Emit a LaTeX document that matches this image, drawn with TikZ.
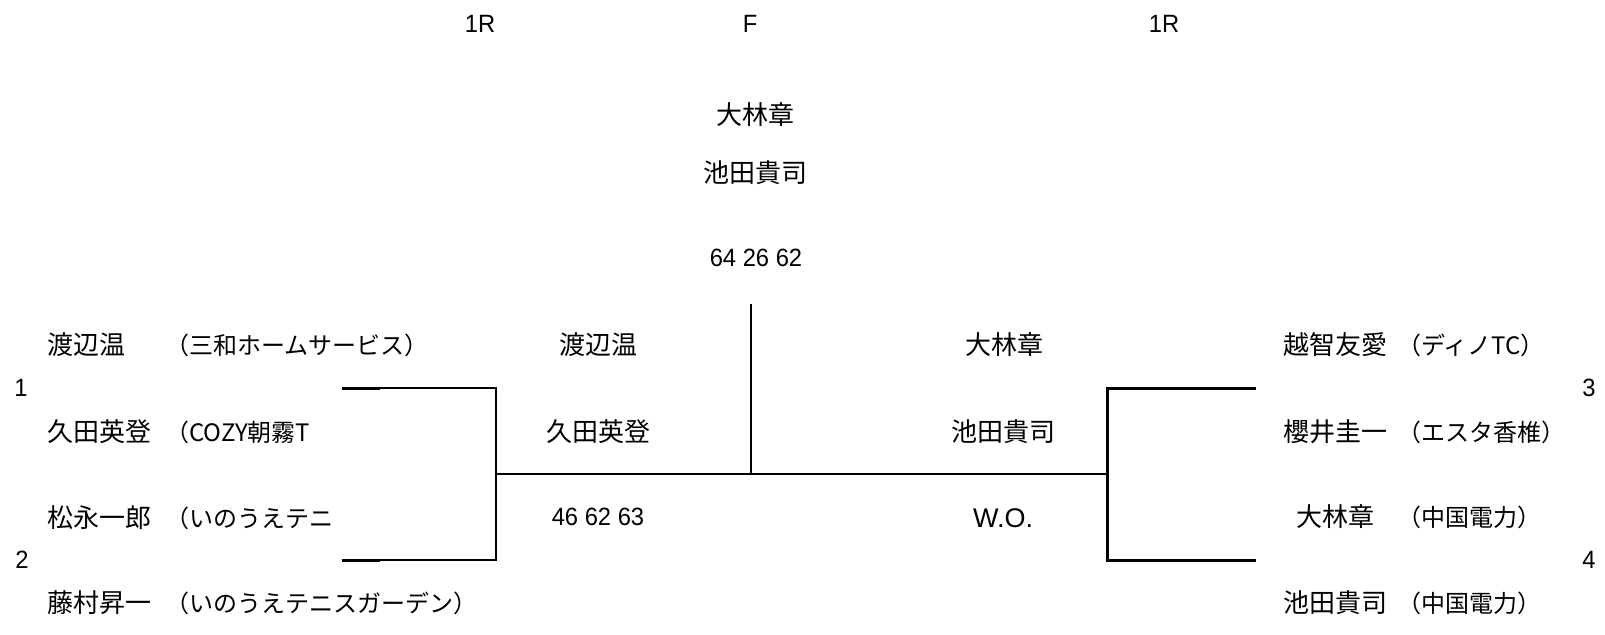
\documentclass[tikz,border=0pt]{standalone}
\usepackage{fontspec}
\setmainfont{Noto Sans CJK JP}
\newfontfamily\jpfont{Noto Sans CJK JP}
\newfontfamily\narrowfont[FakeStretch=0.95]{Liberation Sans}
\newfontfamily\wofont{Liberation Sans}
\begin{document}
\begin{tikzpicture}[x=1pt,y=-1pt,
  pname/.style={font=\jpfont\fontsize{26}{26}\selectfont, inner sep=0pt},
  team/.style={font=\jpfont\fontsize{24}{24}\selectfont, inner sep=0pt, anchor=west},
  lbl/.style={font=\narrowfont\fontsize{25}{25}\selectfont, inner sep=0pt},
  wo/.style={font=\wofont\fontsize{27}{27}\selectfont, inner sep=0pt},
  bk/.style={line width=2pt},
  bkt/.style={line width=3pt},
  bkr/.style={line width=3pt},
  bkc/.style={line width=1.5pt}]
\useasboundingbox (0,0) rectangle (1605,634);
% round headers
\node[lbl] (h1) at (480,24) {1R};
\node[lbl] (hf) at (750,24) {F};
\node[lbl] (h2) at (1164,24) {1R};
% final result
\node[pname] (fw1) at (755,115) {大林章};
\node[pname] (fw2) at (755,173) {池田貴司};
\node[lbl] (fsc) at (756,258) {64 26 62};
% left players
\node[pname, anchor=west] (p1) at (47,345) {渡辺温};
\node[team] (t1) at (165,345) {（三和ホームサービス）};
\node[pname, anchor=west] (p2) at (47,432) {久田英登};
\node[team] (t2) at (165,432) {（COZY朝霧T};
\node[pname, anchor=west] (p3) at (47,518) {松永一郎};
\node[team] (t3) at (165,518) {（いのうえテニ};
\node[pname, anchor=west] (p4) at (47,603) {藤村昇一};
\node[team] (t4) at (165,603) {（いのうえテニスガーデン）};
\node[lbl] (n1) at (21,388) {1};
\node[lbl] (n2) at (22,560) {2};
% left winner
\node[pname] (lw1) at (598,345) {渡辺温};
\node[pname] (lw2) at (598,432) {久田英登};
\node[lbl] (lsc) at (598,517) {46 62 63};
% right winner
\node[pname] (rw1) at (1004,345) {大林章};
\node[pname] (rw2) at (1003,432) {池田貴司};
\node[wo] (rsc) at (1003,518) {W.O.};
% right players
\node[pname] (q1) at (1335,345) {越智友愛};
\node[team] (u1) at (1397,345) {（ディノTC）};
\node[pname] (q2) at (1335,432) {櫻井圭一};
\node[team] (u2) at (1397,432) {（エスタ香椎）};
\node[pname] (q3) at (1335,517) {大林章};
\node[team] (u3) at (1397,517) {（中国電力）};
\node[pname] (q4) at (1335,603) {池田貴司};
\node[team] (u4) at (1397,603) {（中国電力）};
\node[lbl] (n3) at (1589,388) {3};
\node[lbl] (n4) at (1589,560) {4};
% bracket coordinates
\coordinate (L1) at (342,388);
\coordinate (L1b) at (380,388);
\coordinate (L2) at (342,560);
\coordinate (L2b) at (380,560);
\coordinate (LJ) at (496,474);
\coordinate (RJ) at (1107,474);
\coordinate (R1) at (1256,388);
\coordinate (R2) at (1256,560);
\coordinate (FT) at (751,304);
\coordinate (FJ) at (751,474);
\draw[bkt] (L1) -- (L1b);
\draw[bkt] (L2) -- (L2b);
\draw[bk] (L1) -| (LJ);
\draw[bk] (L2) -| (LJ);
\draw[bk] (LJ) -- (RJ);
\draw[bkr] (R1) -| (RJ);
\draw[bkr] (R2) -| (RJ);
\draw[bkc] (FT) -- (FJ);
\end{tikzpicture}
\end{document}
